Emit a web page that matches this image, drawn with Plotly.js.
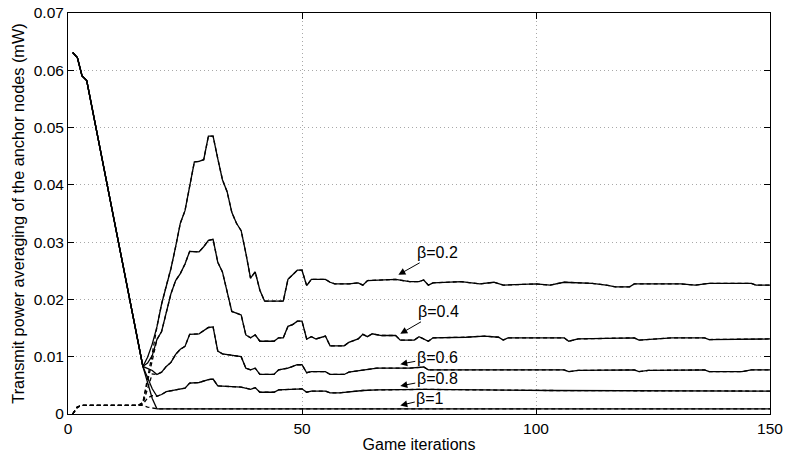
<!DOCTYPE html>
<html>
<head>
<meta charset="utf-8">
<script src="https://cdn.plot.ly/plotly-3.0.1.min.js"></script>
<style>
  html, body { margin: 0; padding: 0; background: #fff; }
  #chart { width: 785px; height: 456px; }
</style>
</head>
<body>
<div id="chart"></div>
<script>
// Shared opening descent of the transmit power (all β values)
const descentIter  = [1, 2, 3, 4, 16];
const descentPower = [0.0631, 0.0622, 0.0590, 0.0582, 0.0083];

// Solid curves after the split, one pair of arrays per β
const beta02Iter  = [17, 18, 19, 20, 21, 22, 23, 24, 25, 26, 27, 28, 29, 30, 31, 32, 33, 34, 35, 36, 37, 38, 39, 40, 41, 42, 46, 47, 48, 49, 50, 51, 52, 55, 56, 57, 60, 62, 63, 64, 70, 73, 75, 76, 77, 78, 84, 88, 91, 93, 100, 103, 106, 112, 115, 117, 120, 121, 131, 134, 137, 146, 147, 150];
const beta02Power = [0.0099, 0.0122, 0.0152, 0.0192, 0.0224, 0.0254, 0.0292, 0.0333, 0.0355, 0.0397, 0.0440, 0.0441, 0.0444, 0.0485, 0.0485, 0.0446, 0.0409, 0.0388, 0.0352, 0.0333, 0.0320, 0.0281, 0.0237, 0.0248, 0.0216, 0.0197, 0.0197, 0.0235, 0.0243, 0.0251, 0.0251, 0.0224, 0.0235, 0.0235, 0.0230, 0.0227, 0.0227, 0.0229, 0.0225, 0.0233, 0.0235, 0.0231, 0.0231, 0.0234, 0.0225, 0.0229, 0.0231, 0.0227, 0.0230, 0.0225, 0.0227, 0.0225, 0.0230, 0.0228, 0.0225, 0.0222, 0.0222, 0.0227, 0.0227, 0.0225, 0.0228, 0.0228, 0.0225, 0.0225];

const beta04Iter  = [17, 18, 19, 20, 21, 22, 23, 24, 25, 26, 28, 29, 30, 31, 32, 33, 35, 37, 38, 39, 40, 41, 44, 45, 46, 47, 48, 49, 50, 51, 52, 53, 55, 56, 59, 60, 62, 63, 64, 65, 67, 70, 71, 74, 75, 77, 78, 85, 89, 92, 93, 94, 106, 107, 109, 121, 122, 124, 129, 136, 137, 150];
const beta04Power = [0.0089, 0.0102, 0.0130, 0.0144, 0.0175, 0.0210, 0.0233, 0.0245, 0.0262, 0.0284, 0.0283, 0.0292, 0.0303, 0.0305, 0.0265, 0.0248, 0.0179, 0.0173, 0.0138, 0.0133, 0.0138, 0.0127, 0.0127, 0.0133, 0.0133, 0.0153, 0.0156, 0.0162, 0.0162, 0.0131, 0.0135, 0.0131, 0.0136, 0.0119, 0.0119, 0.0125, 0.0131, 0.0139, 0.0135, 0.0140, 0.0137, 0.0137, 0.0129, 0.0129, 0.0135, 0.0127, 0.0133, 0.0134, 0.0136, 0.0134, 0.0129, 0.0133, 0.0133, 0.0127, 0.0131, 0.0133, 0.0129, 0.0130, 0.0133, 0.0133, 0.0130, 0.0131];

const beta06Iter  = [17, 18, 19, 20, 21, 22, 23, 24, 25, 26, 28, 29, 30, 31, 32, 33, 36, 37, 38, 39, 40, 41, 44, 45, 47, 49, 50, 51, 52, 55, 56, 59, 60, 63, 65, 66, 73, 76, 77, 106, 107, 109, 121, 122, 124, 136, 137, 144, 146, 150];
const beta06Power = [0.0080, 0.0076, 0.0069, 0.0073, 0.0083, 0.0090, 0.0104, 0.0113, 0.0118, 0.0139, 0.0140, 0.0145, 0.0151, 0.0152, 0.0110, 0.0105, 0.0102, 0.0100, 0.0080, 0.0077, 0.0080, 0.0069, 0.0069, 0.0077, 0.0080, 0.0086, 0.0086, 0.0072, 0.0074, 0.0074, 0.0069, 0.0069, 0.0073, 0.0076, 0.0079, 0.0080, 0.0080, 0.0082, 0.0077, 0.0077, 0.0074, 0.0076, 0.0077, 0.0074, 0.0076, 0.0077, 0.0074, 0.0074, 0.0077, 0.0077];

const beta08Iter  = [17, 18, 19, 20, 21, 23, 25, 26, 28, 30, 31, 32, 35, 37, 39, 40, 41, 44, 45, 49, 50, 51, 52, 55, 56, 58, 60, 63, 66, 76, 103, 150];
const beta08Power = [0.0062, 0.0044, 0.0031, 0.0034, 0.0039, 0.0042, 0.0045, 0.0054, 0.0055, 0.0060, 0.0061, 0.0049, 0.0048, 0.0047, 0.0043, 0.0046, 0.0038, 0.0038, 0.0042, 0.0044, 0.0044, 0.0038, 0.0040, 0.0040, 0.0037, 0.0037, 0.0039, 0.0041, 0.0042, 0.0043, 0.0041, 0.0040];

const beta1Iter   = [17, 18, 19, 150];
const beta1Power  = [0.0055, 0.0027, 0.0009, 0.0009];

// Dashed curves: start near zero, climb late, then run with the solid ones from iteration 19
const dashedIter   = [1, 2, 3, 15, 16, 17, 18];
const dashedHead02 = [0, 0.0012, 0.0015, 0.0015, 0.0020, 0.0060, 0.0105];
const dashedHead04 = [0, 0.0012, 0.0015, 0.0015, 0.0020, 0.0055, 0.0095];
const dashedHead06 = [0, 0.0012, 0.0015, 0.0015, 0.0018, 0.0045, 0.0070];
const dashedHead08 = [0, 0.0012, 0.0015, 0.0015, 0.0017, 0.0028, 0.0032];
const dashedHead1  = [0, 0.0012, 0.0015, 0.0015, 0.0015, 0.0012, 0.0010];

const betaLabels = ['β=0.2', 'β=0.4', 'β=0.6', 'β=0.8', 'β=1'];
const xTicks = [0, 50, 100, 150];

const solidSets = [
  [beta02Iter, beta02Power],
  [beta04Iter, beta04Power],
  [beta06Iter, beta06Power],
  [beta08Iter, beta08Power],
  [beta1Iter, beta1Power]
];
const dashedHeads = [dashedHead02, dashedHead04, dashedHead06, dashedHead08, dashedHead1];

const traces = [];
solidSets.forEach(([it, pw], k) => {
  traces.push({
    x: descentIter.concat(it),
    y: descentPower.concat(pw),
    type: 'scatter', mode: 'lines', name: betaLabels[k],
    line: { color: '#000', width: 1.3 },
    showlegend: false, hoverinfo: 'skip'
  });
});
solidSets.forEach(([it, pw], k) => {
  const from = it.indexOf(19);
  traces.push({
    x: dashedIter.concat(it.slice(from)),
    y: dashedHeads[k].concat(pw.slice(from)),
    type: 'scatter', mode: 'lines', name: betaLabels[k] + ' (dashed)',
    line: { color: '#000', width: 1.3, dash: '4px,3px' },
    showlegend: false, hoverinfo: 'skip'
  });
});

const fontFamily = 'Liberation Sans, Arial, Helvetica, sans-serif';

// Arrow labels: tip on the curve, text offset up and to the right
const labelTips = [
  { x: 70.6, y: 0.0243, ax: 39, ay: -22 },
  { x: 71.0, y: 0.0140, ax: 38, ay: -22 },
  { x: 71.0, y: 0.0087, ax: 37, ay: -7 },
  { x: 71.0, y: 0.0049, ax: 37, ay: -7 },
  { x: 71.0, y: 0.0015, ax: 30, ay: -7 }
];
const annotations = labelTips.map((t, k) => ({
  x: t.x, y: t.y, xref: 'x', yref: 'y',
  ax: t.ax, ay: t.ay, axref: 'pixel', ayref: 'pixel',
  text: betaLabels[k], showarrow: true,
  arrowhead: 2, arrowsize: 1.4, arrowwidth: 1, arrowcolor: '#000',
  standoff: 0, startstandoff: 0,
  font: { family: fontFamily, size: 16, color: '#000' }
}));

const axisCommon = {
  showline: true, linecolor: '#000', linewidth: 1, mirror: 'ticks',
  ticks: 'inside', ticklen: 6, tickcolor: '#000', tickwidth: 1,
  showgrid: true, gridcolor: '#a8a8a8', gridwidth: 1, griddash: '1px,3px',
  zeroline: false,
  tickfont: { family: fontFamily, size: 15.5, color: '#000' }
};

const layout = {
  width: 785, height: 456,
  margin: { l: 68, r: 15, t: 13, b: 42 },
  paper_bgcolor: '#fff', plot_bgcolor: '#fff',
  font: { family: fontFamily, color: '#000' },
  xaxis: Object.assign({}, axisCommon, {
    range: [0, 150], tickvals: xTicks, ticktext: xTicks.map(String),
    title: { text: 'Game iterations', font: { family: fontFamily, size: 16, color: '#000' }, standoff: 3 }
  }),
  yaxis: Object.assign({}, axisCommon, {
    range: [0, 0.07], dtick: 0.01, tick0: 0,
    title: { text: 'Transmit power averaging of the anchor nodes (mW)', font: { family: fontFamily, size: 16.3, color: '#000' }, standoff: 5 }
  }),
  annotations: annotations,
  showlegend: false
};

Plotly.newPlot('chart', traces, layout, { staticPlot: true, displayModeBar: false });
</script>
</body>
</html>
